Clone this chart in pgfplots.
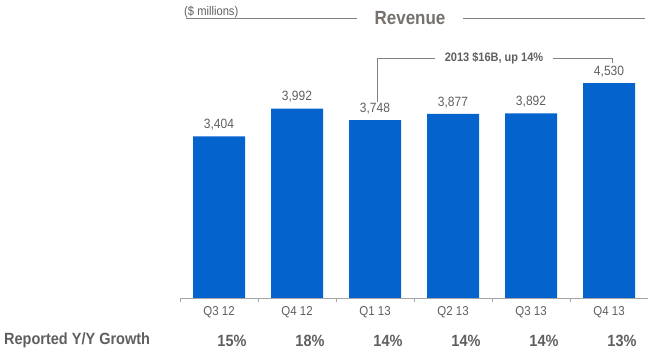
\documentclass[border=0pt]{standalone}
\usepackage{pgfplots}
\pgfplotsset{compat=1.18}
\usepackage{fontspec}
\setmainfont{Liberation Sans}
\definecolor{barblue}{RGB}{5,99,206}
\definecolor{txtgray}{RGB}{95,95,95}
\definecolor{titlegray}{RGB}{118,113,108}
\definecolor{linegray}{RGB}{130,130,130}
\definecolor{axisgray}{RGB}{165,165,165}
\newcommand\vs[1]{\scalebox{1}[1.12]{#1}}
\begin{document}
\begin{tikzpicture}[x=1pt,y=1pt]
\useasboundingbox (0,0) rectangle (655,352);
\begin{axis}[
  at={(180pt,54pt)}, anchor=south west,
  scale only axis, width=468pt, height=237.3pt,
  xmin=-0.5, xmax=5.5, ymin=0, ymax=5000,
  axis x line=bottom, hide y axis,
  axis line style={-, draw=axisgray, line width=0.8pt},
  xtick={0,1,2,3,4,5},
  xticklabels={\vs{Q3 12},\vs{Q4 12},\vs{Q1 13},\vs{Q2 13},\vs{Q3 13},\vs{Q4 13}},
  major tick length=0pt,
  minor xtick={-0.5,0.5,1.5,2.5,3.5,4.5},
  minor tick length=4pt,
  tick align=outside,
  minor tick style={draw=axisgray, line width=0.8pt},
  xticklabel style={anchor=center, yshift=-14pt, font=\fontsize{11.5}{13}\selectfont, text=txtgray},
  clip=false,
  ybar, bar width=52pt,
  nodes near coords={\vs{\pgfmathprintnumber[fixed,precision=0,1000 sep={,},assume math mode=true]{\pgfplotspointmeta}}},
  every node near coord/.append style={anchor=south, inner sep=0pt, yshift=6pt, font=\fontsize{12}{14}\selectfont, text=txtgray},
]
\addplot[fill=barblue, draw=none, bar shift=0pt] coordinates {(0,3404) (1,3992) (2,3748) (3,3877) (4,3892) (5,4530)};
\foreach \i/\p in {0/15,1/18,2/14,3/14,4/14,5/13}{
  \edef\tmp{\noexpand\node[anchor=center, xshift=13pt, yshift=-43pt, font=\noexpand\bfseries\noexpand\fontsize{14.5}{16}\noexpand\selectfont, text=txtgray] at (axis cs:\i,0) {\noexpand\vs{\p\noexpand\%}};}
  \tmp
}
\end{axis}
% bottom row title
\node[anchor=west, inner sep=0pt, font=\bfseries\fontsize{14.5}{16}\selectfont, text=txtgray] at (4,12) {\vs{Reported Y/Y Growth}};
% top title
\node[anchor=center, inner sep=0pt, font=\bfseries\fontsize{17}{19}\selectfont, text=titlegray] at (410,333.5) {\vs{Revenue}};
\draw[linegray, line width=0.9pt] (186,333.7) -- (357,333.7);
\draw[linegray, line width=0.9pt] (463,333.5) -- (645,333.5);
\node[anchor=west, inner sep=0pt, font=\fontsize{11.2}{13}\selectfont, text=txtgray] at (184,340.3) {\vs{(\$ millions)}};
% annotation bracket
\draw[linegray, line width=0.6pt] (377,250) -- (377,294) -- (435,294);
\draw[linegray, line width=0.6pt] (553,294) -- (612,294) -- (612,289);
\node[anchor=center, inner sep=0pt, font=\bfseries\fontsize{11}{13}\selectfont, text=txtgray] at (494,294) {\vs{2013 \$16B, up 14\%}};
\end{tikzpicture}
\end{document}
